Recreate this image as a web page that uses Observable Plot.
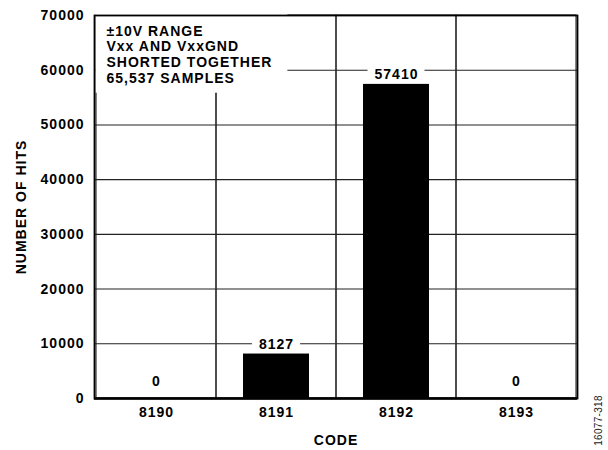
<!DOCTYPE html>
<html>
<head>
<meta charset="utf-8">
<script src="https://cdn.jsdelivr.net/npm/d3@7"></script>
<script src="https://cdn.jsdelivr.net/npm/@observablehq/plot@0.6"></script>
<style>
  html, body { margin: 0; padding: 0; background: #fff; }
</style>
</head>
<body>
<div id="chart"></div>
<script>
const codes = ["8190", "8191", "8192", "8193"];
const hits = [0, 8127, 57410, 0];
const yTicks = [0, 10000, 20000, 30000, 40000, 50000, 60000, 70000];
const noteLines = ["±10V RANGE", "Vxx AND VxxGND", "SHORTED TOGETHER", "65,537 SAMPLES"];
const figureId = "16077-318";

const data = codes.map((c, i) => ({code: c, hits: hits[i]}));

const chart = Plot.plot({
  width: 608,
  height: 450,
  marginLeft: 94,
  marginRight: 31,
  marginTop: 15,
  marginBottom: 52,
  style: "font-family: 'Liberation Sans', Arial, Helvetica, sans-serif; font-size: 14px; font-weight: bold; letter-spacing: 1px; color: #000; background: #fff;",
  x: {domain: codes, padding: 0, label: "CODE", labelArrow: "none", labelAnchor: "center", labelOffset: 46, tickSize: 0, tickPadding: 9},
  y: {domain: [0, 70000], ticks: yTicks, label: "NUMBER OF HITS", labelArrow: "none", labelAnchor: "center", labelOffset: 78, tickSize: 0, tickPadding: 10, tickFormat: d => String(d)},
  marks: [
    Plot.ruleY(yTicks, {stroke: "#222", strokeWidth: 1.1}),
    Plot.cell(data, {x: "code", fill: "none", stroke: "#222", strokeWidth: 1.1, inset: 0}),
    Plot.barY(data, {x: "code", y: "hits", fill: "#000", insetLeft: 27, insetRight: 27}),
    Plot.text(data.filter(d => d.hits > 0), {x: "code", y: "hits", text: d => String(d.hits), dy: -10, fill: "#000", ariaDescription: "bar-label"}),
    Plot.text(data.filter(d => d.hits === 0), {x: "code", y: "hits", text: d => String(d.hits), dy: -17, fill: "#000", ariaDescription: "bar-label"}),
    Plot.text([noteLines.join("\n")], {frameAnchor: "top-left", textAnchor: "start", lineAnchor: "top", lineHeight: 1.12, dx: 12, dy: 9, fill: "#000", ariaDescription: "note"}),
    Plot.ruleY([0], {stroke: "#000", strokeWidth: 2.5}),
    Plot.frame({stroke: "#000", strokeWidth: 1.8}),
    Plot.text([figureId], {frameAnchor: "bottom-right", rotate: -90, textAnchor: "middle", dx: 24, dy: 22, fontSize: 10, fontWeight: "normal", fill: "#222", ariaDescription: "fig-id"})
  ]
});

document.getElementById("chart").appendChild(chart);

// white background boxes behind labels (interrupting gridlines)
const ns = "http://www.w3.org/2000/svg";
function boxes(desc, padL, padR, padT, padB) {
  chart.querySelectorAll(`g[aria-description="${desc}"] text`).forEach(t => {
    const b = t.getBBox();
    const r = document.createElementNS(ns, "rect");
    r.setAttribute("x", b.x - padL);
    r.setAttribute("y", b.y - padT);
    r.setAttribute("width", b.width + padL + padR);
    r.setAttribute("height", b.height + padT + padB);
    r.setAttribute("fill", "#fff");
    r.setAttribute("stroke", "none");
    const tr = t.getAttribute("transform");
    if (tr) r.setAttribute("transform", tr);
    t.parentNode.insertBefore(r, t);
  });
}
boxes("bar-label", 7, 6, 0, 0);
boxes("note", 11, 15, 10, 7);
chart.querySelectorAll('g[aria-description="fig-id"] text').forEach(t => t.style.letterSpacing = "0.3px");
</script>
</body>
</html>
